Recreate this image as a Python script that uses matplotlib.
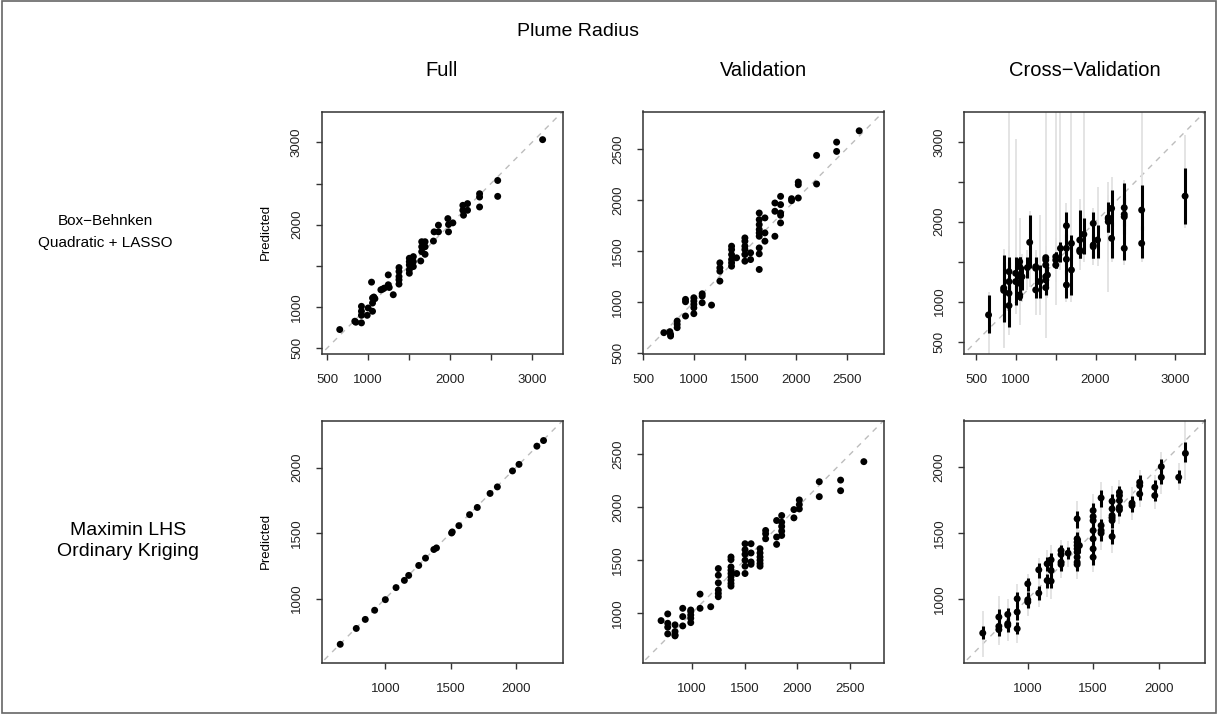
import matplotlib
matplotlib.use("Agg")
import matplotlib.pyplot as plt
from matplotlib.patches import Rectangle

plt.rcParams["font.family"] = ["Liberation Sans", "DejaVu Sans"]

# ── Box-Behnken, Quadratic + LASSO : Full fit ─────────────────
bb_full_x = [655, 839, 851, 920, 920, 920, 920, 990, 1002, 1043, 1055, 1055, 1055, 1071, 1084,
             1157, 1178, 1198, 1247, 1247, 1259, 1308, 1378, 1378, 1378, 1378, 1378,
             1504, 1504, 1504, 1504, 1504, 1553, 1553, 1553, 1643, 1655, 1655, 1655,
             1696, 1696, 1696, 1798, 1806, 1859, 1859, 1974, 1982, 1982, 2035,
             2157, 2157, 2165, 2214, 2214, 2361, 2361, 2361, 2582, 2582, 3130]
bb_full_y = [726, 827, 815, 1008, 948, 899, 807, 899, 988, 1302, 1109, 1048, 948, 1121, 1101,
             1209, 1217, 1229, 1390, 1270, 1237, 1149, 1479, 1431, 1370, 1330, 1278,
             1592, 1551, 1511, 1451, 1410, 1612, 1551, 1491, 1559, 1793, 1732, 1672,
             1793, 1732, 1640, 1801, 1913, 1994, 1913, 2074, 2002, 1913, 2022,
             2235, 2175, 2115, 2256, 2175, 2376, 2336, 2215, 2537, 2344, 3033]

# ── Box-Behnken : Validation ──────────────────────────────────
bb_val_x = [703, 762, 769, 769, 834, 834, 834, 916, 916, 916, 998, 998, 998, 998, 998,
            1080, 1080, 1080, 1172, 1254, 1254, 1254, 1254,
            1369, 1369, 1369, 1369, 1369, 1369, 1418, 1500, 1500, 1500, 1500, 1500, 1500,
            1556, 1556, 1641, 1641, 1641, 1641, 1641, 1641, 1641, 1641, 1641,
            1697, 1697, 1697, 1795, 1795, 1795, 1851, 1851, 1851, 1851, 1851,
            1959, 1959, 2025, 2025, 2025, 2205, 2205, 2402, 2402, 2624]
bb_val_y = [699, 709, 683, 666, 813, 780, 748, 862, 1025, 1002, 1041, 1008, 976, 943, 885,
            1080, 1057, 992, 969, 1383, 1334, 1301, 1204,
            1546, 1513, 1464, 1415, 1383, 1350, 1432, 1627, 1595, 1546, 1513, 1464, 1399,
            1481, 1415, 1871, 1806, 1757, 1709, 1676, 1643, 1529, 1471, 1318,
            1823, 1676, 1595, 1969, 1888, 1643, 2034, 1953, 1871, 1849, 1774,
            2011, 1992, 2174, 2148, 2018, 2435, 2155, 2565, 2474, 2676]

# ── Box-Behnken : Cross-validation (point, 50% bar, 95% bar) ──
bb_cv_x = [655, 845, 845, 912, 912, 912, 912, 996, 996, 1046, 1046, 1046, 1046, 1046, 1046,
           1075, 1143, 1172, 1248, 1248, 1248, 1298, 1374, 1374, 1374, 1374, 1374, 1374,
           1395, 1500, 1500, 1500, 1559, 1634, 1634, 1634, 1634, 1697, 1697,
           1802, 1802, 1802, 1853, 1971, 1971, 1971, 2025, 2160, 2160, 2160,
           2202, 2202, 2361, 2361, 2361, 2361, 2580, 2580, 3126]
bb_cv_y = [833, 1170, 1140, 1375, 1250, 1104, 950, 1354, 1250, 1500, 1437, 1312, 1229, 1083, 1062,
           1312, 1425, 1742, 1437, 1417, 1146, 1250, 1550, 1520, 1458, 1312, 1270, 1175,
           1333, 1562, 1520, 1458, 1667, 1950, 1667, 1529, 1208, 1729, 1396,
           1771, 1646, 1625, 1842, 1979, 1708, 1687, 1771, 2050, 2033, 2000,
           2167, 1792, 2175, 2092, 2062, 1667, 2146, 1729, 2321]
bb_cv_lo50 = [604, 750, 760, 1150, 1000, 900, 688, 1150, 958, 1350, 1250, 1150, 1050, 1021, 1021,
              1150, 1290, 1417, 1300, 1250, 1042, 1042, 1400, 1350, 1300, 1150, 1100, 1083,
              1200, 1450, 1420, 1417, 1500, 1750, 1450, 1350, 1042, 1550, 1083,
              1600, 1542, 1542, 1600, 1800, 1542, 1542, 1542, 1900, 1875, 1875,
              1950, 1542, 1950, 1900, 1850, 1521, 1900, 1542, 1967]
bb_cv_hi50 = [1083, 1583, 1500, 1563, 1500, 1300, 1200, 1563, 1450, 1563, 1560, 1480, 1400, 1250, 1200,
              1450, 1560, 2090, 1563, 1550, 1300, 1458, 1583, 1580, 1560, 1450, 1420, 1300,
              1450, 1625, 1620, 1560, 1750, 2125, 1850, 1700, 1400, 1833, 1600,
              2150, 1800, 1750, 2050, 2125, 1850, 1800, 1958, 2250, 2167, 2100,
              2400, 2000, 2479, 2350, 2300, 1900, 2458, 1950, 2667]
bb_cv_lo95 = [330, 420, 430, 1000, 800, 700, 583, 980, 850, 1250, 1100, 950, 850, 750, 708,
              1000, 1150, 1187, 1200, 1100, 833, 833, 1300, 1200, 1150, 1000, 900, 542,
              1050, 1350, 1250, 958, 1400, 1600, 1300, 1200, 1000, 1400, 1000,
              1500, 1450, 1400, 1500, 1700, 1458, 1458, 1450, 1125, 1500, 1600,
              1800, 1500, 1850, 1800, 1750, 1458, 1700, 1500, 1917]
bb_cv_hi95 = [1125, 1660, 1640, 1700, 1650, 1500, 5000, 3040, 1600, 2042, 1625, 1600, 1550, 1400, 1350,
              1600, 1650, 2130, 1650, 1625, 1450, 2084, 5000, 1700, 1650, 1600, 1550, 1450,
              1600, 5000, 1800, 1700, 5000, 2230, 2000, 1900, 1600, 5000, 1750,
              2290, 2000, 1950, 5000, 2167, 2000, 1950, 2437, 2500, 2333, 2300,
              2560, 2200, 2521, 2450, 2400, 2000, 5000, 2100, 3083]

# ── Maximin LHS, Ordinary Kriging : Full fit ──────────────────
ok_full_x = [654, 777, 846, 918, 1000, 1082, 1146, 1179, 1256, 1308, 1372, 1392,
             1508, 1513, 1564, 1646, 1705, 1803, 1859, 1975, 2025, 2162, 2213]
ok_full_y = [651, 772, 841, 911, 992, 1084, 1139, 1177, 1253, 1309, 1375, 1387,
             1501, 1509, 1557, 1641, 1696, 1803, 1853, 1975, 2025, 2164, 2207]

# ── Ordinary Kriging : Validation ─────────────────────────────
ok_val_x = [710, 773, 773, 773, 773, 842, 842, 842, 842, 915, 915, 915,
            991, 991, 991, 991, 991, 1079, 1079, 1180,
            1252, 1252, 1252, 1252, 1252, 1252,
            1372, 1372, 1372, 1372, 1372, 1372, 1372, 1372, 1372, 1426,
            1505, 1505, 1505, 1505, 1505, 1505, 1562, 1562, 1562, 1562,
            1647, 1647, 1647, 1647, 1647, 1647, 1700, 1700, 1700,
            1804, 1804, 1804, 1852, 1852, 1852, 1852, 1852,
            1968, 1968, 2019, 2019, 2019, 2208, 2208, 2410, 2410, 2630]
ok_val_y = [931, 994, 906, 869, 806, 891, 828, 797, 787, 1047, 969, 881,
            1031, 1016, 984, 953, 912, 1047, 1181, 1062,
            1422, 1359, 1287, 1219, 1187, 1156,
            1531, 1506, 1437, 1406, 1375, 1344, 1312, 1281, 1256, 1375,
            1656, 1600, 1556, 1500, 1444, 1375, 1656, 1569, 1484, 1462,
            1609, 1569, 1531, 1500, 1469, 1444, 1781, 1750, 1703,
            1875, 1719, 1650, 1922, 1859, 1819, 1775, 1734,
            1978, 1900, 2069, 2025, 1984, 2241, 2100, 2256, 2156, 2430]

# ── Ordinary Kriging : Cross-validation ───────────────────────
ok_cv_x = [656, 779, 779, 779, 847, 847, 847, 919, 919, 919, 1000, 1000, 1000, 1084, 1084,
           1148, 1148, 1178, 1178, 1178, 1254, 1254, 1254, 1254, 1308,
           1377, 1377, 1377, 1377, 1377, 1377, 1377, 1377, 1377, 1394,
           1499, 1499, 1499, 1499, 1499, 1499, 1499, 1560, 1560, 1560, 1560,
           1644, 1644, 1644, 1644, 1644, 1644, 1700, 1700, 1700, 1700, 1700,
           1796, 1796, 1855, 1855, 1855, 1970, 1970, 2020, 2020, 2153, 2204]
ok_cv_y = [739, 861, 790, 765, 881, 810, 797, 1000, 899, 772, 1114, 992, 975, 1220, 1043,
           1266, 1139, 1296, 1215, 1134, 1367, 1337, 1278, 1261, 1347,
           1608, 1456, 1430, 1405, 1380, 1354, 1316, 1278, 1261, 1405,
           1671, 1625, 1595, 1519, 1456, 1380, 1316, 1767, 1557, 1519, 1499,
           1742, 1684, 1633, 1615, 1595, 1473, 1810, 1785, 1747, 1696, 1676,
           1727, 1709, 1886, 1861, 1797, 1848, 1785, 2005, 1924, 1924, 2106]
ok_cv_lo50 = [690, 800, 740, 720, 830, 760, 750, 940, 840, 730, 1060, 940, 930, 1160, 990,
              1210, 1080, 1240, 1160, 1080, 1320, 1290, 1230, 1210, 1300,
              1540, 1400, 1380, 1350, 1330, 1300, 1260, 1230, 1210, 1350,
              1610, 1570, 1540, 1460, 1400, 1330, 1260, 1700, 1500, 1460, 1440,
              1680, 1630, 1580, 1560, 1540, 1420, 1760, 1730, 1700, 1650, 1630,
              1680, 1660, 1840, 1810, 1750, 1790, 1740, 1950, 1870, 1880, 2040]
ok_cv_hi50 = [790, 920, 850, 820, 930, 860, 850, 1050, 950, 820, 1160, 1050, 1030, 1270, 1100,
              1320, 1190, 1350, 1270, 1180, 1410, 1380, 1330, 1310, 1390,
              1670, 1510, 1490, 1460, 1430, 1410, 1370, 1330, 1310, 1460,
              1730, 1680, 1650, 1580, 1510, 1430, 1370, 1830, 1610, 1580, 1550,
              1800, 1740, 1690, 1670, 1650, 1530, 1860, 1840, 1800, 1750, 1730,
              1780, 1760, 1940, 1910, 1850, 1900, 1840, 2060, 1980, 1980, 2190]
ok_cv_lo95 = [560, 690, 660, 650, 730, 690, 680, 860, 760, 660, 990, 880, 870, 1090, 940,
              1140, 1010, 1170, 1080, 1000, 1250, 1230, 1180, 1160, 1240,
              1450, 1330, 1310, 1290, 1270, 1240, 1200, 1170, 1150, 1290,
              1530, 1490, 1460, 1390, 1330, 1260, 1200, 1620, 1430, 1390, 1370,
              1610, 1560, 1510, 1490, 1470, 1350, 1700, 1670, 1640, 1590, 1570,
              1620, 1600, 1780, 1750, 1700, 1720, 1680, 1870, 1800, 1830, 1900]
ok_cv_hi95 = [910, 1020, 960, 900, 1000, 950, 930, 1110, 1040, 900, 1190, 1100, 1080, 1310, 1160,
              1370, 1260, 1410, 1340, 1260, 1450, 1430, 1390, 1370, 1440,
              1740, 1570, 1550, 1520, 1500, 1470, 1430, 1390, 1370, 1520,
              1800, 1760, 1730, 1650, 1580, 1500, 1430, 1890, 1680, 1640, 1620,
              1860, 1800, 1750, 1730, 1710, 1590, 1900, 1880, 1850, 1800, 1780,
              1850, 1830, 1980, 1960, 1900, 1940, 1900, 2120, 2050, 2030, 2400]

col_titles = ["Full", "Validation", "Cross\u2212Validation"]
row_titles = ["Box\u2212Behnken\nQuadratic + LASSO", "Maximin LHS\nOrdinary Kriging"]

W, H = 1218, 714
fig = plt.figure(figsize=(W / 100, H / 100), dpi=100)
fig.patch.set_facecolor("white")
fig.add_artist(Rectangle((0.0015, 0.002), 0.997, 0.996, transform=fig.transFigure,
                         fill=False, edgecolor="#666666", lw=1.2))

INK = "#333333"


def make_ax(left_px, top_px, lims, ticks, labels):
    ax = fig.add_axes([left_px / W, 1 - (top_px + 242) / H, 241 / W, 242 / H])
    ax.set_xlim(*lims)
    ax.set_ylim(*lims)
    ax.set_xticks(ticks)
    ax.set_yticks(ticks)
    ax.set_xticklabels(labels)
    ax.set_yticklabels(labels, rotation=90, va="center")
    ax.tick_params(direction="out", length=4.5, width=1, colors=INK, labelsize=9.5,
                   labelcolor="#222222")
    ax.tick_params(axis="x", pad=10)
    ax.tick_params(axis="y", pad=9)
    for sp in ax.spines.values():
        sp.set_color(INK)
        sp.set_linewidth(1.1)
    ax.plot([0, 6000], [0, 6000], color="#bdbdbd", lw=1, ls=(0, (4, 4)), zorder=1)
    return ax


def dots(ax, x, y):
    ax.scatter(x, y, s=25, color="black", edgecolors="none", zorder=4)


t_big = [500, 1000, 1500, 2000, 2500, 3000]
l_big = ["500", "1000", "", "2000", "", "3000"]
t_mid = [500, 1000, 1500, 2000, 2500]
l_mid = [str(t) for t in t_mid]
t_small = [1000, 1500, 2000]
l_small = [str(t) for t in t_small]
t_med2 = [1000, 1500, 2000, 2500]
l_med2 = [str(t) for t in t_med2]

lefts = [321.7, 642.7, 964.3]
tops = [111.5, 420.5]

# top row
ax = make_ax(lefts[0], tops[0], (435, 3375), t_big, l_big)
dots(ax, bb_full_x, bb_full_y)
ax = make_ax(lefts[1], tops[0], (495, 2865), t_mid, l_mid)
dots(ax, bb_val_x, bb_val_y)
ax = make_ax(lefts[2], tops[0], (350, 3380), t_big, l_big)
ax.vlines(bb_cv_x, bb_cv_lo95, bb_cv_hi95, color="#e2e2e2", lw=1.3, zorder=2)
ax.vlines(bb_cv_x, bb_cv_lo50, bb_cv_hi50, color="black", lw=2.2, zorder=3)
dots(ax, bb_cv_x, bb_cv_y)

# bottom row
ax = make_ax(lefts[0], tops[1], (512, 2360), t_small, l_small)
dots(ax, ok_full_x, ok_full_y)
ax = make_ax(lefts[1], tops[1], (536, 2818), t_med2, l_med2)
dots(ax, ok_val_x, ok_val_y)
ax = make_ax(lefts[2], tops[1], (515, 2356), t_small, l_small)
ax.vlines(ok_cv_x, ok_cv_lo95, ok_cv_hi95, color="#e2e2e2", lw=1.3, zorder=2)
ax.vlines(ok_cv_x, ok_cv_lo50, ok_cv_hi50, color="black", lw=2.2, zorder=3)
dots(ax, ok_cv_x, ok_cv_y)

# titles and labels
fig.text(578 / W, 1 - 32 / H, "Plume Radius", ha="center", va="center", fontsize=14)
for cx, t in zip([442, 763, 1085], col_titles):
    fig.text(cx / W, 1 - 70 / H, t, ha="center", va="center", fontsize=14.5)
fig.text(105 / W, 1 - 232 / H, row_titles[0], ha="center", va="center",
         fontsize=11, linespacing=1.65)
fig.text(128 / W, 1 - 541 / H, row_titles[1], ha="center", va="center",
         fontsize=14, linespacing=1.3)
for cy in (232, 541):
    fig.text(266 / W, 1 - cy / H, "Predicted", ha="center", va="center",
             rotation=90, fontsize=9.5)

fig.savefig("out.png", dpi=100)
